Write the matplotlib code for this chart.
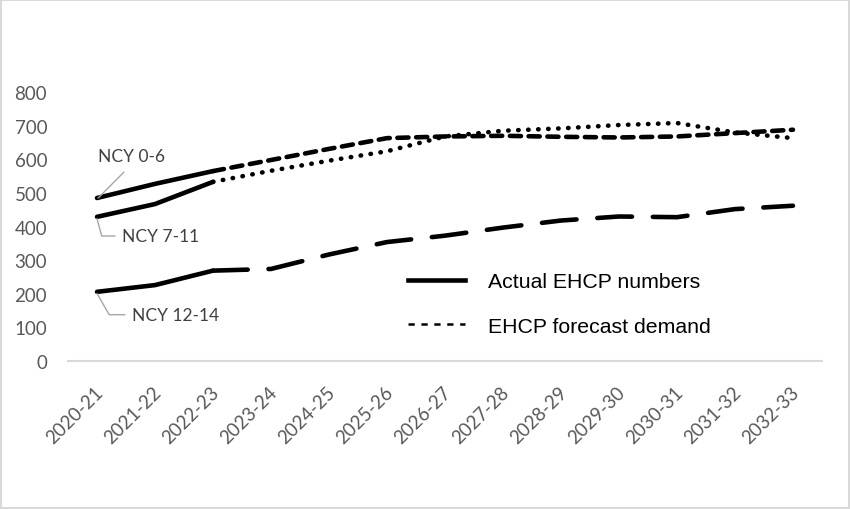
import matplotlib
matplotlib.use("Agg")
import matplotlib.pyplot as plt
import matplotlib.transforms as mtransforms
from matplotlib.lines import Line2D

# year groups on the x axis
years = ["2020-21", "2021-22", "2022-23", "2023-24", "2024-25", "2025-26", "2026-27",
         "2027-28", "2028-29", "2029-30", "2030-31", "2031-32", "2032-33"]

# actual EHCP numbers (first three years)
ncy_0_6_actual = [485, 527, 565]
ncy_7_11_actual = [429, 467, 533]
ncy_12_14_actual = [206, 226, 269]

# forecast demand (from 2022-23 onwards so the lines join up)
ncy_0_6_forecast = [565, 598, 631, 663, 668, 670, 667, 665, 668, 678, 688]
ncy_7_11_forecast = [533, 566, 596, 624, 668, 685, 692, 702, 708, 680, 663]
ncy_12_14_forecast = [269, 274, 317, 354, 373, 397, 418, 430, 428, 452, 462]

plt.rcParams['lines.scale_dashes'] = False

fig = plt.figure(figsize=(8.5, 5.1), dpi=100)
fig.patch.set_edgecolor('#d9d9d9')
fig.patch.set_linewidth(1.5)
ax = fig.add_axes([0.08, 0.29, 0.887, 0.5275])

x = list(range(len(years)))
xa = x[:3]
xf = x[2:]

lw = 3.3
for vals in [ncy_0_6_actual, ncy_7_11_actual, ncy_12_14_actual]:
    ax.plot(xa, vals, color='black', lw=lw, solid_capstyle='round')

ax.plot(xf, ncy_0_6_forecast, color='black', lw=lw, dashes=(8, 5.5), dash_capstyle='round')
ax.plot(xf, ncy_7_11_forecast, color='black', lw=lw, dashes=(0.3, 6.9), dash_capstyle='round')
ax.plot(xf, ncy_12_14_forecast, color='black', lw=lw, dashes=(25, 15), dash_capstyle='round')

ax.set_xlim(-0.5, len(years) - 0.5)
ax.set_ylim(0, 800)
ax.set_yticks(range(0, 801, 100))
ax.set_xticks(x)
ax.set_xticklabels(years, rotation=45, ha='right', va='center', rotation_mode='anchor')
for s in ['top', 'right', 'left']:
    ax.spines[s].set_visible(False)
ax.spines['bottom'].set_color('#d9d9d9')
ax.spines['bottom'].set_linewidth(1.5)
ax.tick_params(length=0, labelsize=13.5, labelcolor='#595959')
ax.tick_params(axis='y', pad=15)
ax.tick_params(axis='x', pad=20)
shift = mtransforms.ScaledTranslation(3 / 100, 0, fig.dpi_scale_trans)
for lab in ax.get_xticklabels():
    lab.set_transform(lab.get_transform() + shift)
for lab in ax.get_xticklabels() + ax.get_yticklabels():
    lab.set_family('Lato')

# series labels with leader lines
lab_kw = dict(fontsize=12.5, color='#404040', family='Lato')
ax.annotate("NCY 0-6", xy=(0.02, ncy_0_6_actual[0]), xytext=(0.02, 585),
            ha='left', va='bottom', **lab_kw,
            arrowprops=dict(arrowstyle='-', color='#a6a6a6', lw=1, shrinkA=5, shrinkB=0,
                            relpos=(0.5, 0)))
ax.annotate("NCY 7-11", xy=(0.0, ncy_7_11_actual[0] - 5), xytext=(0.43, 372),
            ha='left', va='center', **lab_kw,
            arrowprops=dict(arrowstyle='-', color='#a6a6a6', lw=1, shrinkA=3, shrinkB=0,
                            connectionstyle='angle,angleA=0,angleB=105,rad=0'))
ax.annotate("NCY 12-14", xy=(0.0, ncy_12_14_actual[0] - 5), xytext=(0.6, 138),
            ha='left', va='center', **lab_kw,
            arrowprops=dict(arrowstyle='-', color='#a6a6a6', lw=1, shrinkA=3, shrinkB=0,
                            connectionstyle='angle,angleA=0,angleB=120,rad=0'))

handles = [Line2D([], [], color='black', lw=3.3),
           Line2D([], [], color='black', lw=1.8, dashes=(4.5, 4.8))]
fig.legend(handles, ["Actual EHCP numbers", "EHCP forecast demand"],
           loc='center left', bbox_to_anchor=(0.48, 0.402), frameon=False,
           borderpad=0, borderaxespad=0, handlelength=2.68, handletextpad=1.08,
           labelspacing=1.2, prop={'family': 'Liberation Sans', 'size': 15.3})

fig.savefig("out.png", dpi=100)
